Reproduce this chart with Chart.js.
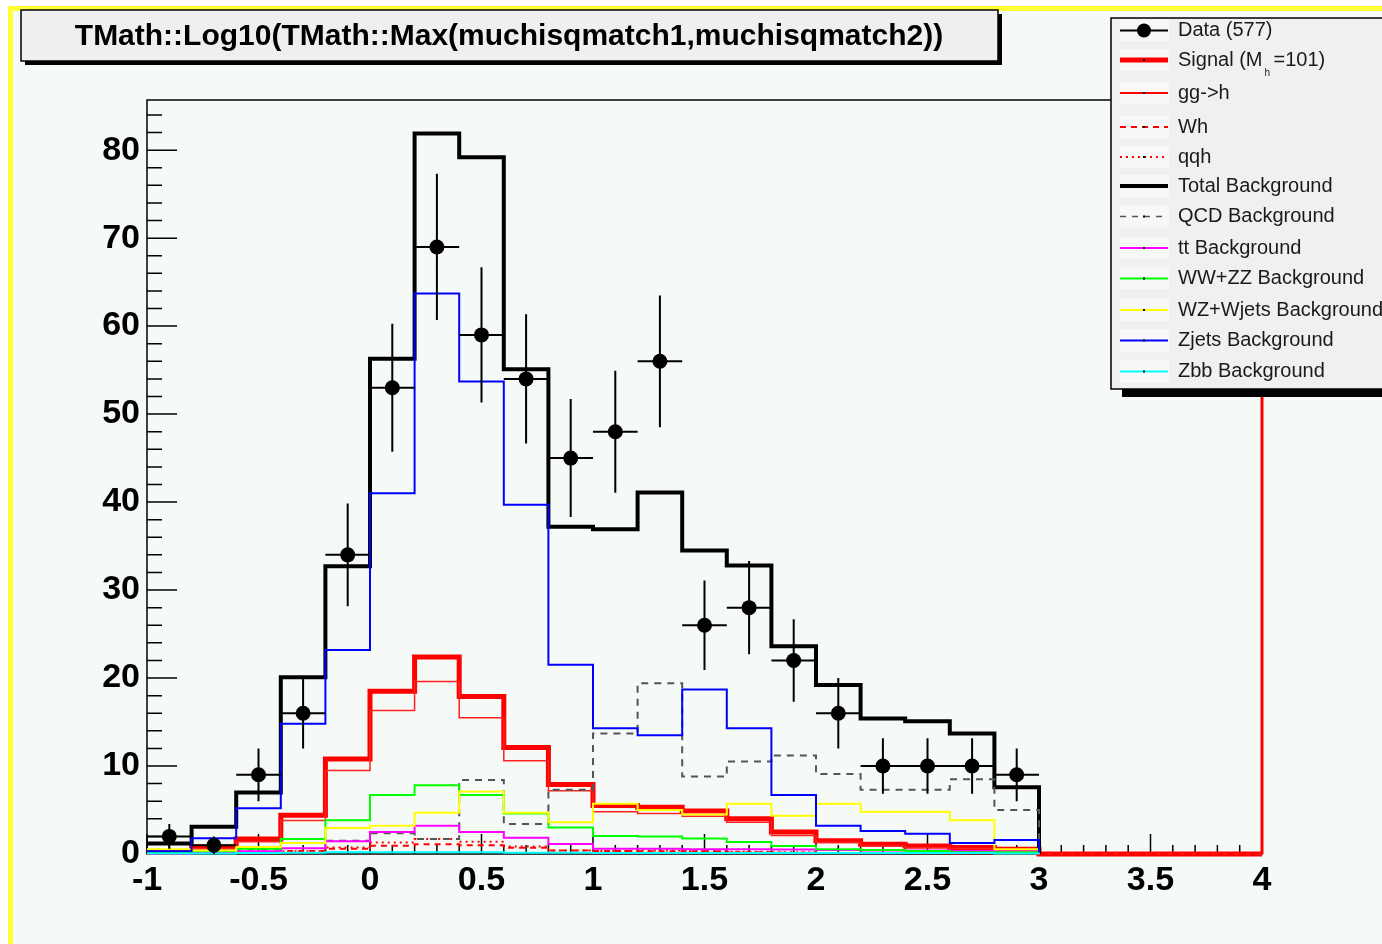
<!DOCTYPE html>
<html>
<head>
<meta charset="utf-8">
<script src="https://cdn.jsdelivr.net/npm/chart.js@4.4.1/dist/chart.umd.min.js"></script>
<style>
  body { margin: 0; background: #fff; }
  canvas { display: block; }
</style>
</head>
<body>
<canvas id="myChart" width="1382" height="944"></canvas>
<script>
const titleText = 'TMath::Log10(TMath::Max(muchisqmatch1,muchisqmatch2))';

const binEdges = [-1, -0.8, -0.6, -0.4, -0.2, 0, 0.2, 0.4, 0.6, 0.8, 1, 1.2, 1.4, 1.6, 1.8, 2,
  2.2, 2.4, 2.6, 2.8, 3, 3.2, 3.4, 3.6, 3.8, 4];

// data, one point per bin centre
const dataX = [-0.9, -0.7, -0.5, -0.3, -0.1, 0.1, 0.3, 0.5, 0.7, 0.9, 1.1, 1.3, 1.5, 1.7, 1.9, 2.1, 2.3, 2.5, 2.7, 2.9];
const dataY = [2, 1, 9, 16, 34, 53, 69, 59, 54, 45, 48, 56, 26, 28, 22, 16, 10, 10, 10, 9];

// backgrounds (bins from -1 to 3)
const totalBkg   = [1.2, 3.1, 7.0, 20.1, 32.7, 56.3, 81.9, 79.2, 55.1, 37.2, 36.9, 41.1, 34.5, 32.8, 23.6, 19.2, 15.4, 15.1, 13.7, 7.6];
const qcdBkg     = [0.1, 0.2, 0.5, 1.7, 1.5, 2.35, 1.7, 8.4, 3.4, 7.3, 13.7, 19.4, 8.8, 10.5, 11.2, 9.1, 7.3, 7.3, 8.5, 5.0];
const ttBkg      = [0.05, 0.1, 0.3, 0.65, 1.45, 2.5, 3.2, 2.5, 1.85, 1.15, 0.6, 0.6, 0.55, 0.55, 0.5, 0.45, 0.4, 0.4, 0.35, 0.3];
const wwzzBkg    = [0.1, 0.3, 0.6, 1.7, 3.85, 6.7, 7.8, 6.7, 4.6, 3.0, 2.05, 2.0, 1.75, 1.35, 0.9, 0.55, 0.45, 0.35, 0.2, 0.2];
const wzWjetsBkg = [0.55, 0.4, 0.8, 1.25, 2.95, 3.2, 4.7, 7.1, 4.7, 3.6, 5.7, 5.0, 4.5, 5.7, 4.35, 5.7, 4.8, 4.8, 3.85, 0.55];
const zjetsBkg   = [0.3, 1.8, 5.2, 14.8, 23.2, 41.0, 63.7, 53.7, 39.7, 21.5, 14.3, 13.5, 18.7, 14.3, 6.7, 3.2, 2.6, 2.3, 1.25, 1.6];
const zbbBkg     = [0.05, 0.05, 0.1, 0.15, 0.2, 0.2, 0.2, 0.2, 0.15, 0.15, 0.1, 0.1, 0.1, 0.1, 0.1, 0.1, 0.1, 0.1, 0.1, 0.05];

// signal, M_h = 101 (bins from -1 to 4)
const signal = [0.2, 0.8, 1.7, 4.4, 10.8, 18.5, 22.4, 17.9, 12.1, 7.9, 5.5, 5.3, 4.9, 4.0, 2.5, 1.5, 1.1, 0.9, 0.75, 0.55, 0, 0, 0, 0, 0];
const ggh    = [0.15, 0.6, 1.4, 3.8, 9.5, 16.3, 19.6, 15.5, 10.6, 7.2, 4.8, 4.6, 4.3, 3.6, 2.1, 1.3, 0.9, 0.7, 0.6, 0.45, 0, 0, 0, 0, 0];
const wh     = [0.03, 0.12, 0.2, 0.35, 0.6, 0.95, 1.1, 1.0, 0.7, 0.4, 0.35, 0.3, 0.3, 0.2, 0.15, 0.1, 0.1, 0.08, 0.06, 0.05, 0, 0, 0, 0, 0];
const qqh    = [0.02, 0.08, 0.1, 0.3, 0.75, 1.3, 1.7, 1.4, 0.85, 0.4, 0.35, 0.4, 0.3, 0.25, 0.2, 0.1, 0.1, 0.1, 0.1, 0.05, 0, 0, 0, 0, 0];

const xTickLabels = [-1, -0.5, 0, 0.5, 1, 1.5, 2, 2.5, 3, 3.5, 4];
const yTickLabels = [0, 10, 20, 30, 40, 50, 60, 70, 80];

const legendItems = [
  { label: 'Data (577)', color: '#000', width: 2, marker: true },
  { label: 'Signal (M', sub: 'h', rest: '=101)', color: '#ff0000', width: 5 },
  { label: 'gg->h', color: '#ff0000', width: 2 },
  { label: 'Wh', color: '#ff0000', width: 2, dash: [6, 5] },
  { label: 'qqh', color: '#ff0000', width: 2, dash: [2, 4] },
  { label: 'Total Background', color: '#000', width: 4 },
  { label: 'QCD Background', color: '#555', width: 1.5, dash: [6, 6] },
  { label: 'tt Background', color: '#ff00ff', width: 2 },
  { label: 'WW+ZZ Background', color: '#00ff00', width: 2 },
  { label: 'WZ+Wjets Background', color: '#ffff00', width: 2 },
  { label: 'Zjets Background', color: '#0000ff', width: 2 },
  { label: 'Zbb Background', color: '#00ffff', width: 2 }
];

// histogram outline: one point per low edge, last point closes the last bin
function steps(vals, dropToZero) {
  const pts = vals.map((v, i) => ({ x: binEdges[i], y: v }));
  const end = binEdges[vals.length];
  pts.push({ x: end, y: dropToZero ? 0 : vals[vals.length - 1] });
  return pts;
}

function hist(vals, color, width, dash, dropToZero) {
  return {
    data: steps(vals, dropToZero),
    borderColor: color,
    borderWidth: width,
    borderDash: dash || [],
    stepped: true,
    pointRadius: 0,
    fill: false,
    clip: 4
  };
}

const vErr = [];
const hErr = [];
dataX.forEach((x, i) => {
  const v = dataY[i];
  const e = Math.sqrt(v);
  vErr.push({ x: x, y: v - e }, { x: x, y: v + e }, { x: x, y: null });
  hErr.push({ x: x - 0.1, y: v }, { x: x + 0.1, y: v }, { x: x + 0.1, y: null });
});

// index 0 is drawn on top
const datasets = [
  { data: dataX.map((x, i) => ({ x: x, y: dataY[i] })), showLine: false, pointRadius: 7.5,
    pointBackgroundColor: '#000', pointBorderColor: '#000', pointBorderWidth: 0 },
  { data: vErr, borderColor: '#000', borderWidth: 2, pointRadius: 0, spanGaps: false },
  { data: hErr, borderColor: '#000', borderWidth: 2, pointRadius: 0, spanGaps: false },
  hist(zbbBkg, '#00ffff', 2, null, true),
  hist(zjetsBkg, '#0000ff', 2, null, true),
  hist(wzWjetsBkg, '#ffff00', 2, null, true),
  hist(wwzzBkg, '#00ff00', 2, null, true),
  hist(ttBkg, '#ff00ff', 2, null, true),
  hist(qcdBkg, '#555555', 2, [7, 6], true),
  hist(totalBkg, '#000000', 4, null, true),
  hist(qqh, '#ff0000', 2, [2, 4], false),
  hist(wh, '#ff0000', 2, [6, 5], false),
  hist(ggh, '#ff2020', 1.5, null, false),
  hist(signal, '#ff0000', 5, null, false)
];

const legendFont = '20px "Liberation Sans", Arial, sans-serif';

const rootLook = {
  id: 'rootLook',
  beforeDraw(chart) {
    const ctx = chart.ctx;
    ctx.save();
    ctx.fillStyle = '#ffffff';
    ctx.fillRect(0, 0, chart.width, chart.height);
    ctx.fillStyle = '#ffff33';
    ctx.fillRect(8, 6, chart.width - 8, 5);
    ctx.fillRect(8, 6, 5, chart.height - 6);
    ctx.fillStyle = '#f6faf7';
    ctx.fillRect(13, 11, chart.width - 13, chart.height - 11);
    ctx.restore();
  },
  beforeDatasetsDraw(chart) {
    const { ctx, chartArea: a } = chart;
    const x = chart.scales.x, y = chart.scales.y;
    ctx.save();
    ctx.strokeStyle = '#000';
    ctx.lineWidth = 1.5;
    ctx.strokeRect(a.left, a.top, a.right - a.left, a.bottom - a.top);
    ctx.beginPath();
    for (let i = 0; i <= 50; i++) {
      const px = x.getPixelForValue(-1 + i * 0.1);
      const len = i % 5 === 0 ? 20 : 9;
      ctx.moveTo(px, a.bottom);
      ctx.lineTo(px, a.bottom - len);
    }
    for (let i = 0; i * 2 <= y.max; i++) {
      const py = y.getPixelForValue(i * 2);
      const len = i % 5 === 0 ? 30 : 15;
      ctx.moveTo(a.left, py);
      ctx.lineTo(a.left + len, py);
    }
    ctx.stroke();
    ctx.restore();
  },
  afterDatasetsDraw(chart) {
    const { ctx, chartArea: a } = chart;
    ctx.save();
    // signal outline running up the right edge
    ctx.strokeStyle = '#ff0000';
    ctx.lineWidth = 3;
    ctx.beginPath();
    ctx.moveTo(a.right, a.bottom);
    ctx.lineTo(a.right, a.top);
    ctx.stroke();

    // title box
    ctx.fillStyle = '#000';
    ctx.fillRect(25, 14, 977, 51);
    ctx.fillStyle = '#efefef';
    ctx.fillRect(21, 10, 977, 51);
    ctx.strokeStyle = '#000';
    ctx.lineWidth = 1.5;
    ctx.strokeRect(21, 10, 977, 51);
    let fs = 30;
    ctx.font = 'bold ' + fs + 'px "Liberation Sans", Arial, sans-serif';
    fs = fs * 868 / ctx.measureText(titleText).width;
    ctx.font = 'bold ' + fs.toFixed(1) + 'px "Liberation Sans", Arial, sans-serif';
    ctx.fillStyle = '#000';
    ctx.textAlign = 'center';
    ctx.textBaseline = 'middle';
    ctx.fillText(titleText, 509, 37);

    // legend
    ctx.fillStyle = '#000';
    ctx.fillRect(1122, 389, 270, 8);
    ctx.fillStyle = '#f0f0f0';
    ctx.fillRect(1111, 18, 280, 371);
    ctx.strokeStyle = '#000';
    ctx.lineWidth = 1.5;
    ctx.strokeRect(1111, 18, 280, 371);
    const rows = [30.5, 60, 93, 127, 157, 186, 216.5, 248, 278.5, 310, 340.5, 371.5];
    legendItems.forEach((it, i) => {
      const ry = rows[i];
      ctx.fillStyle = '#f8f8f8';
      ctx.fillRect(1120, ry - 11, 49, 22);
      ctx.strokeStyle = it.color;
      ctx.lineWidth = it.width;
      ctx.setLineDash(it.dash || []);
      ctx.beginPath();
      ctx.moveTo(1120, ry);
      ctx.lineTo(1168, ry);
      ctx.stroke();
      ctx.setLineDash([]);
      ctx.fillStyle = '#000';
      if (it.marker) {
        ctx.beginPath();
        ctx.arc(1144, ry, 7, 0, Math.PI * 2);
        ctx.fill();
      } else {
        ctx.fillRect(1143, ry - 1, 2, 2);
      }
      ctx.fillStyle = '#1a1a1a';
      ctx.textAlign = 'left';
      ctx.textBaseline = 'middle';
      ctx.font = legendFont;
      ctx.fillText(it.label, 1178, ry);
      if (it.sub) {
        const w = ctx.measureText(it.label).width;
        ctx.font = '10px "Liberation Sans", Arial, sans-serif';
        ctx.fillText(it.sub, 1178 + w + 2, ry + 13);
        ctx.font = legendFont;
        ctx.fillText(it.rest, 1178 + w + 11, ry);
      }
    });
    ctx.restore();
  }
};

const ctx = document.getElementById('myChart').getContext('2d');
const myChart = new Chart(ctx, {
  type: 'line',
  data: { datasets: datasets },
  plugins: [rootLook],
  options: {
    responsive: false,
    animation: false,
    events: [],
    layout: { padding: { left: 0, right: 120, top: 100, bottom: 0 } },
    plugins: { legend: { display: false }, tooltip: { enabled: false } },
    scales: {
      x: {
        type: 'linear',
        min: -1,
        max: 4,
        border: { display: false },
        grid: { display: false, drawTicks: false },
        afterFit: (s) => { s.height = 90; },
        afterBuildTicks: (s) => { s.ticks = xTickLabels.map(v => ({ value: v })); },
        ticks: {
          padding: 6,
          color: '#000',
          font: { family: '"Liberation Sans", Arial, sans-serif', size: 34, weight: 'bold' },
          maxRotation: 0,
          autoSkip: false,
          callback: (v) => String(v)
        }
      },
      y: {
        type: 'linear',
        min: 0,
        max: 85.7,
        border: { display: false },
        grid: { display: false, drawTicks: false },
        afterFit: (s) => { s.width = 147; },
        afterBuildTicks: (s) => { s.ticks = yTickLabels.map(v => ({ value: v })); },
        ticks: {
          padding: 7,
          color: '#000',
          font: { family: '"Liberation Sans", Arial, sans-serif', size: 34, weight: 'bold' },
          autoSkip: false,
          callback: (v) => String(v)
        }
      }
    }
  }
});
</script>
</body>
</html>
